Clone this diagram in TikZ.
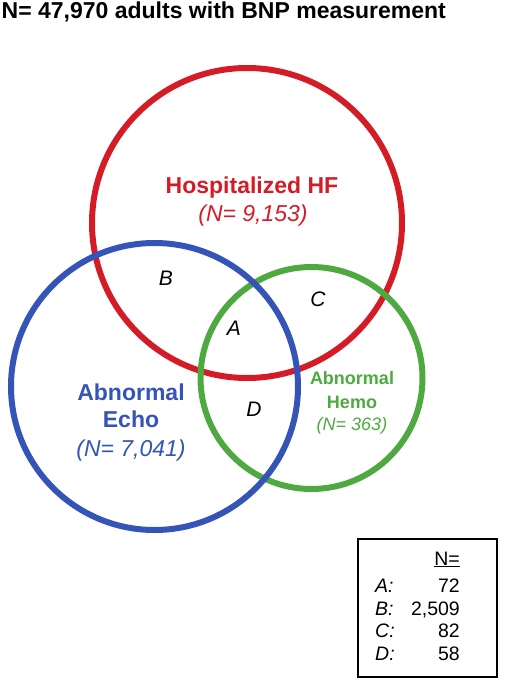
\documentclass[tikz,border=0pt]{standalone}
\usepackage{fontspec}
\setmainfont{Liberation Sans}
\definecolor{hfred}{RGB}{212,28,38}
\definecolor{echoblue}{RGB}{52,84,184}
\definecolor{hemogreen}{RGB}{78,170,64}
\newcommand{\fs}[1]{\fontsize{#1}{#1}\selectfont}

\begin{document}
\begin{tikzpicture}[x=1pt,y=-1pt,
   ring/.style={line width=6pt},
   lbl/.style={anchor=base,inner sep=0pt},
   big/.style={lbl,font=\bfseries\fs{23}},
   bigit/.style={lbl,font=\itshape\fs{23}},
   region/.style={lbl,font=\itshape\fs{21}},
   tab/.style={inner sep=0pt,font=\fs{19.5}}]
   \useasboundingbox (0,0) rectangle (508,680);
   % circles
   \draw[ring,hfred] (247,223) circle[radius=155pt];
   \draw[ring,hemogreen] (311.5,378) circle[radius=111pt];
   \draw[ring,echoblue] (154.5,386.5) circle[radius=143.5pt];
   % title
   \node[lbl,anchor=base west,font=\bfseries\fs{23}] (title) at (1.5,19) {N= 47,970 adults with BNP measurement};
   % set labels
   \node[big,hfred] (hfname) at (252,193) {Hospitalized HF};
   \node[bigit,hfred] (hfn) at (253,221) {(N= 9,153)};
   \node[big,echoblue] (echoname) at (131,400) {Abnormal};
   \node[big,echoblue] (echoname2) at (131,427) {Echo};
   \node[bigit,echoblue] (echon) at (131,456) {(N= 7,041)};
   \node[lbl,hemogreen,font=\bfseries\fs{18}] (hemoname) at (352,384.5) {Abnormal};
   \node[lbl,hemogreen,font=\bfseries\fs{18}] (hemoname2) at (352,408.5) {Hemo};
   \node[lbl,hemogreen,font=\itshape\fs{18}] (hemon) at (352,430.5) {(N= 363)};
   % overlap regions
   \node[region] (regA) at (234,335.5) {A};
   \node[region] (regB) at (166,285.5) {B};
   \node[region] (regC) at (318,306.5) {C};
   \node[region] (regD) at (254,416.5) {D};
   % counts box
   \draw[line width=1.5pt] (358,539) rectangle (497,677);
   \node[tab,anchor=base east] (nhead) at (460,565) {\underline{N=}};
   \node[tab,anchor=base west,font=\itshape\fs{19.5}] (keyA) at (375,592) {A:};
   \node[tab,anchor=base west,font=\itshape\fs{19.5}] (keyB) at (375,615) {B:};
   \node[tab,anchor=base west,font=\itshape\fs{19.5}] (keyC) at (375,637) {C:};
   \node[tab,anchor=base west,font=\itshape\fs{19.5}] (keyD) at (375,660) {D:};
   \node[tab,anchor=base east] (valA) at (460,592) {72};
   \node[tab,anchor=base east] (valB) at (460,615) {2,509};
   \node[tab,anchor=base east] (valC) at (460,637) {82};
   \node[tab,anchor=base east] (valD) at (460,660) {58};
\end{tikzpicture}
\end{document}
